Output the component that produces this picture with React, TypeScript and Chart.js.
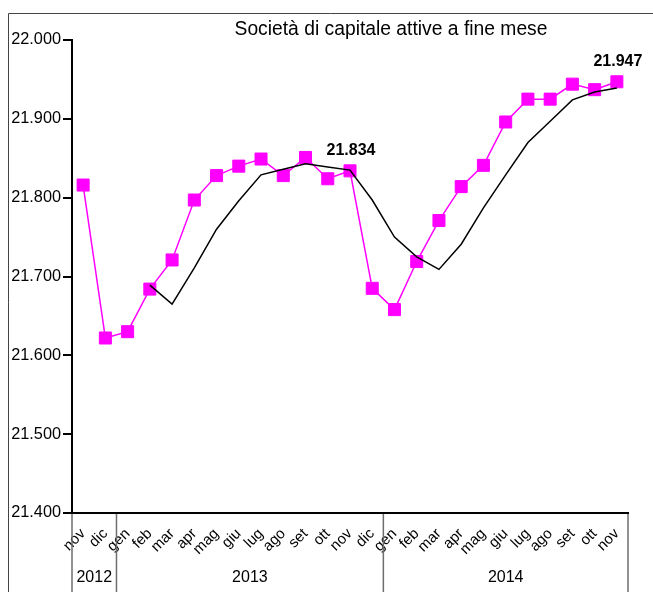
import React, { useEffect, useRef } from 'react';
import { Chart, registerables } from 'chart.js';

Chart.register(...registerables);

const months = ['nov', 'dic', 'gen', 'feb', 'mar', 'apr', 'mag', 'giu', 'lug', 'ago', 'set', 'ott', 'nov', 'dic', 'gen', 'feb', 'mar', 'apr', 'mag', 'giu', 'lug', 'ago', 'set', 'ott', 'nov'];
const years = ['2012', '2013', '2014'];
const yearFirst = [0, 2, 14];
const yearLast = [1, 13, 24];
const monthly = [21.816, 21.622, 21.630, 21.684, 21.721, 21.797, 21.828, 21.840, 21.849, 21.828, 21.851, 21.824, 21.834, 21.685, 21.658, 21.719, 21.771, 21.814, 21.841, 21.896, 21.925, 21.925, 21.944, 21.937, 21.947];
const trend = [null, null, null, 21.689, 21.665, 21.711, 21.760, 21.796, 21.829, 21.836, 21.843, 21.839, 21.835, 21.797, 21.750, 21.725, 21.709, 21.741, 21.787, 21.829, 21.870, 21.897, 21.924, 21.934, 21.939];
const labelled = [12, 24];
const title = 'Società di capitale attive a fine mese';
const yMin = 21.4;
const yMax = 22.0;
const yStep = 0.1;

const FONT = '"Liberation Sans", Arial, sans-serif';

function fmt(v: number) {
  return v.toFixed(3);
}

export default function App() {
  const ref = useRef<HTMLCanvasElement>(null);

  useEffect(() => {
    const canvas = ref.current;
    if (!canvas) return;

    const overlay = {
      id: 'overlay',
      afterDraw(chart: any) {
        const { ctx, chartArea, scales } = chart;
        const xs = scales.x;
        const ys = scales.y;
        ctx.save();
        // outer frame (top + left visible)
        ctx.strokeStyle = '#444';
        ctx.lineWidth = 1;
        ctx.beginPath();
        ctx.moveTo(8.5, chart.height);
        ctx.lineTo(8.5, 13.5);
        ctx.lineTo(chart.width, 13.5);
        ctx.stroke();

        // year dividers
        const x0 = xs.getPixelForValue(0);
        const step = xs.getPixelForValue(1) - x0;
        const bounds = [yearFirst[0], ...yearLast.map((i) => i + 1)];
        ctx.strokeStyle = '#6e6e6e';
        ctx.lineWidth = 1.5;
        bounds.forEach((i) => {
          const px = x0 + (i - 0.5) * step;
          ctx.beginPath();
          ctx.moveTo(px, chartArea.bottom + 1);
          ctx.lineTo(px, chart.height);
          ctx.stroke();
        });

        // year labels
        ctx.fillStyle = '#000';
        ctx.font = `16px ${FONT}`;
        ctx.textAlign = 'center';
        ctx.textBaseline = 'middle';
        years.forEach((yr, k) => {
          const a = x0 + (yearFirst[k] - 0.5) * step;
          const b = x0 + (yearLast[k] + 0.5) * step;
          ctx.fillText(yr, (a + b) / 2, chart.height - 14);
        });

        // title
        ctx.font = `19.3px ${FONT}`;
        ctx.fillText(title, (chartArea.left + chartArea.right) / 2 + 41, 30);

        // data labels
        ctx.font = `bold 16px ${FONT}`;
        labelled.forEach((i) => {
          const px = xs.getPixelForValue(i);
          const py = ys.getPixelForValue(monthly[i]);
          ctx.fillText(fmt(monthly[i]), px + 1, py - 20);
        });
        ctx.restore();
      },
    };

    const chart = new Chart(canvas, {
      type: 'line',
      data: {
        labels: months,
        datasets: [
          {
            label: 'trend',
            data: trend,
            borderColor: '#000000',
            borderWidth: 1.5,
            pointRadius: 0,
            fill: false,
            tension: 0,
            order: 1,
            spanGaps: false,
          },
          {
            label: 'mensile',
            data: monthly,
            borderColor: '#ff00ff',
            backgroundColor: '#ff00ff',
            borderWidth: 1.5,
            pointStyle: 'rect',
            pointRadius: 8.5,
            pointBorderWidth: 1,
            pointBorderColor: '#ff00ff',
            pointBackgroundColor: '#ff00ff',
            fill: false,
            tension: 0,
            order: 2,
          },
        ],
      },
      options: {
        responsive: false,
        animation: false,
        devicePixelRatio: 1,
        layout: { padding: { left: 0, right: 25, top: 40, bottom: 0 } },
        plugins: {
          legend: { display: false },
          title: { display: false },
          tooltip: { enabled: false },
        },
        scales: {
          x: {
            type: 'category',
            offset: true,
            grid: { display: false, drawTicks: false },
            border: { display: true, color: '#000', width: 2 },
            ticks: {
              autoSkip: false,
              maxRotation: 45,
              minRotation: 45,
              padding: 12,
              color: '#000',
              font: { family: FONT, size: 15 },
            },
            afterFit(scale: any) {
              scale.height = 79;
            },
          },
          y: {
            min: yMin,
            max: yMax,
            grid: {
              display: true,
              drawOnChartArea: false,
              drawTicks: true,
              tickLength: 9,
              color: '#000',
              lineWidth: 2,
            },
            border: { display: true, color: '#000', width: 2 },
            ticks: {
              stepSize: yStep,
              padding: 2,
              color: '#000',
              font: { family: FONT, size: 16.3 },
              callback: (v: any) => fmt(Number(v)),
            },
            afterFit(scale: any) {
              scale.width = 72;
            },
          },
        },
      },
      plugins: [overlay],
    });

    return () => chart.destroy();
  }, []);

  return (
    <div style={{ position: 'absolute', left: 0, top: 0, width: 653, height: 592, background: '#fff' }}>
      <canvas ref={ref} width={653} height={592} style={{ width: 653, height: 592, display: 'block' }} />
    </div>
  );
}
